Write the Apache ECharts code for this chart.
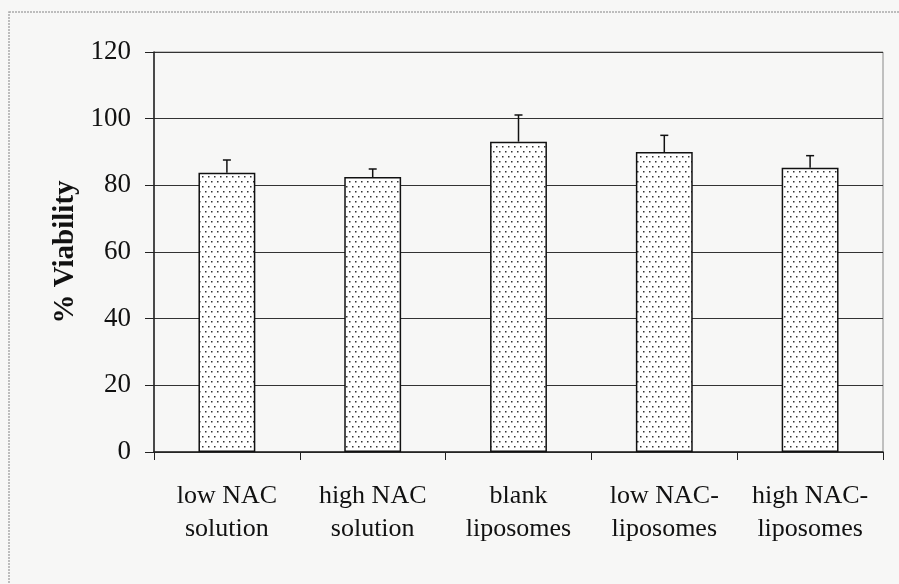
<!DOCTYPE html>
<html>
<head>
<meta charset="utf-8">
<script src="https://cdn.jsdelivr.net/npm/echarts@6/dist/echarts.min.js"></script>
<style>
  html, body { margin: 0; padding: 0; background: #f7f7f6; }
  #chart { width: 899px; height: 584px; }
</style>
</head>
<body>
<div id="chart"></div>
<script>
// data
var categories = ["low NAC\nsolution", "high NAC\nsolution", "blank\nliposomes", "low NAC-\nliposomes", "high NAC-\nliposomes"];
var viability = [83.8, 82.5, 93.1, 90.0, 85.3];
var errUp = [3.8, 2.4, 8.0, 5.0, 3.6];
var yTicks = [0, 20, 40, 60, 80, 100, 120];

// dotted fill like the Excel pattern
function dotPattern() {
  var c = document.createElement("canvas");
  c.width = 6; c.height = 10;
  var ctx = c.getContext("2d");
  ctx.fillStyle = "#ffffff";
  ctx.fillRect(0, 0, 6, 10);
  ctx.fillStyle = "#333";
  ctx.fillRect(1, 1, 1.5, 1.5);
  ctx.fillRect(4, 6, 1.5, 1.5);
  return c;
}

var chart = echarts.init(document.getElementById("chart"));
var serif = "Liberation Serif, Times New Roman, serif";

var option = {
  backgroundColor: "#f7f7f6",
  animation: false,
  graphic: [{
    type: "rect",
    shape: { x: 9, y: 12, width: 900, height: 590 },
    style: { fill: "none", stroke: "#aaa", lineWidth: 1.5, lineDash: [2, 1] }
  }],
  grid: {
    left: 154, right: 16, top: 52, bottom: 132,
    show: true, borderColor: "#888", borderWidth: 1, backgroundColor: "transparent"
  },
  xAxis: {
    type: "category",
    data: categories,
    axisLine: { lineStyle: { color: "#222", width: 1.5 } },
    axisTick: { show: true, interval: 0, length: 8, lineStyle: { color: "#222" } },
    axisLabel: {
      interval: 0,
      color: "#111", fontFamily: serif, fontSize: 26, lineHeight: 33, margin: 28
    }
  },
  yAxis: {
    type: "value",
    min: 0, max: 120, interval: 20,
    name: "% Viability",
    nameLocation: "middle",
    nameGap: 68,
    nameTextStyle: { fontFamily: serif, fontSize: 29, fontWeight: "bold", color: "#111" },
    axisLine: { show: true, lineStyle: { color: "#222", width: 1.5 } },
    axisTick: { show: true, length: 9, lineStyle: { color: "#222" } },
    splitLine: { lineStyle: { color: "#333", width: 1.2 } },
    axisLabel: {
      color: "#111", fontFamily: serif, fontSize: 27, margin: 23,
      formatter: function (v) { return yTicks.indexOf(v) >= 0 ? String(v) : ""; }
    }
  },
  series: [{
    type: "bar",
    data: viability,
    barWidth: "39%",
    itemStyle: {
      color: { image: dotPattern(), repetition: "repeat" },
      borderColor: "#111",
      borderWidth: 1.5
    }
  }, {
    type: "custom",
    data: viability.map(function (v, i) { return [i, v, v + errUp[i]]; }),
    z: 5,
    renderItem: function (params, api) {
      var p0 = api.coord([api.value(0), api.value(1)]);
      var p1 = api.coord([api.value(0), api.value(2)]);
      var cap = 4;
      return {
        type: "group",
        children: [{
          type: "line",
          shape: { x1: p0[0], y1: p0[1], x2: p1[0], y2: p1[1] },
          style: { stroke: "#111", lineWidth: 1.5 }
        }, {
          type: "line",
          shape: { x1: p1[0] - cap, y1: p1[1], x2: p1[0] + cap, y2: p1[1] },
          style: { stroke: "#111", lineWidth: 1.5 }
        }]
      };
    }
  }]
};

chart.setOption(option);
</script>
</body>
</html>
